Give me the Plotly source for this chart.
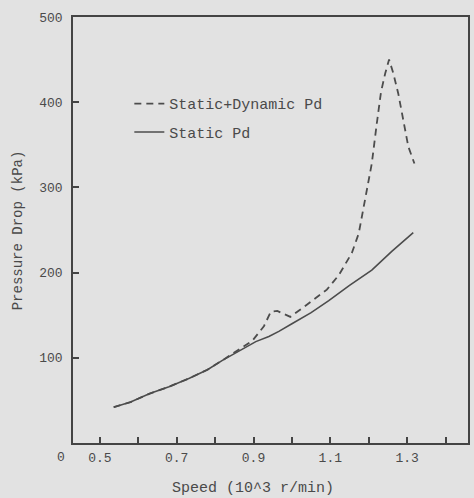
import plotly.graph_objects as go

# Data
static_speed = [0.536, 0.58, 0.63, 0.68, 0.733, 0.78, 0.819, 0.86, 0.906, 0.94, 0.966, 1.0, 1.05, 1.096, 1.15, 1.208, 1.26, 1.316]
static_pd = [42, 48, 58, 66, 76, 86, 97, 107, 119, 125, 131, 140, 153, 167, 185, 203, 225, 247]

dyn_speed = [0.536, 0.58, 0.63, 0.68, 0.733, 0.78, 0.819, 0.86, 0.897, 0.927, 0.945, 0.962, 0.996, 1.044, 1.091,
             1.122, 1.156, 1.174, 1.191, 1.208, 1.221, 1.232, 1.243, 1.253, 1.264, 1.277, 1.290, 1.303, 1.319]
dyn_pd = [42, 48, 58, 66, 76, 86, 97, 109, 120, 137, 154, 155, 148, 164, 180,
          197, 223, 246, 285, 328, 375, 412, 434, 450, 434, 410, 379, 348, 328]

x_tickvals = [0.5, 0.6, 0.7, 0.8, 0.9, 1.0, 1.1, 1.2, 1.3, 1.4]
x_ticktext = ["0.5", "", "0.7", "", "0.9", "", "1.1", "", "1.3", ""]
y_tickvals = [100, 200, 300, 400, 500]
y_ticktext = ["100", "200", "300", "400", "500"]

FONT = "Liberation Mono, DejaVu Sans Mono, monospace"
INK = "#4a4a4a"
BG = "#e2e2e2"

fig = go.Figure()
fig.add_trace(go.Scatter(
    x=dyn_speed, y=dyn_pd, mode="lines", name="Static+Dynamic Pd",
    line=dict(color="#4c4c4c", width=1.8, dash="7px,5px"),
    legendgroup="a",
))
fig.add_trace(go.Scatter(
    x=static_speed, y=static_pd, mode="lines", name="Static Pd",
    line=dict(color="#4c4c4c", width=1.6),
    legendgroup="b",
))

fig.update_layout(
    width=474, height=498,
    margin=dict(l=73, r=4, t=17, b=55),
    paper_bgcolor=BG, plot_bgcolor=BG,
    font=dict(family=FONT, color=INK, size=13),
    showlegend=True,
    legend=dict(
        x=0.1426, y=0.835, xanchor="left", yanchor="top",
        bgcolor="rgba(0,0,0,0)", font=dict(size=15, family=FONT, color=INK),
        traceorder="grouped", tracegroupgap=6, itemwidth=30,
    ),
    xaxis=dict(
        range=[0.43, 1.4585], showgrid=False, zeroline=False,
        showline=True, linecolor="#444", linewidth=1.5, mirror=True,
        ticks="inside", ticklen=6, tickwidth=1.5, tickcolor="#444",
        tickvals=x_tickvals, ticktext=x_ticktext, ticklabelstandoff=2,
        tickfont=dict(size=13, family=FONT, color=INK),
    ),
    yaxis=dict(
        range=[0, 500], showgrid=False, zeroline=False,
        showline=True, linecolor="#444", linewidth=1.5, mirror=True,
        ticks="inside", ticklen=6, tickwidth=1.5, tickcolor="#444",
        tickvals=y_tickvals, ticktext=y_ticktext, ticklabelstandoff=6,
        tickfont=dict(size=13, family=FONT, color=INK),
    ),
    annotations=[
        dict(text="0", x=0.43, y=0, xref="x", yref="y", showarrow=False,
             xshift=-12, yshift=-14, font=dict(size=13, family=FONT, color=INK)),
        dict(text="Speed (10^3 r/min)", x=0.456, y=0, xref="paper", yref="paper",
             showarrow=False, yshift=-45, yanchor="middle",
             font=dict(size=15, family=FONT, color=INK)),
        dict(text="Pressure Drop (kPa)", x=-0.1385, y=0.5, xref="paper", yref="paper",
             showarrow=False, textangle=-90, xanchor="center", yanchor="middle",
             font=dict(size=14, family=FONT, color=INK)),
    ],
)

fig.write_html("out.html")
